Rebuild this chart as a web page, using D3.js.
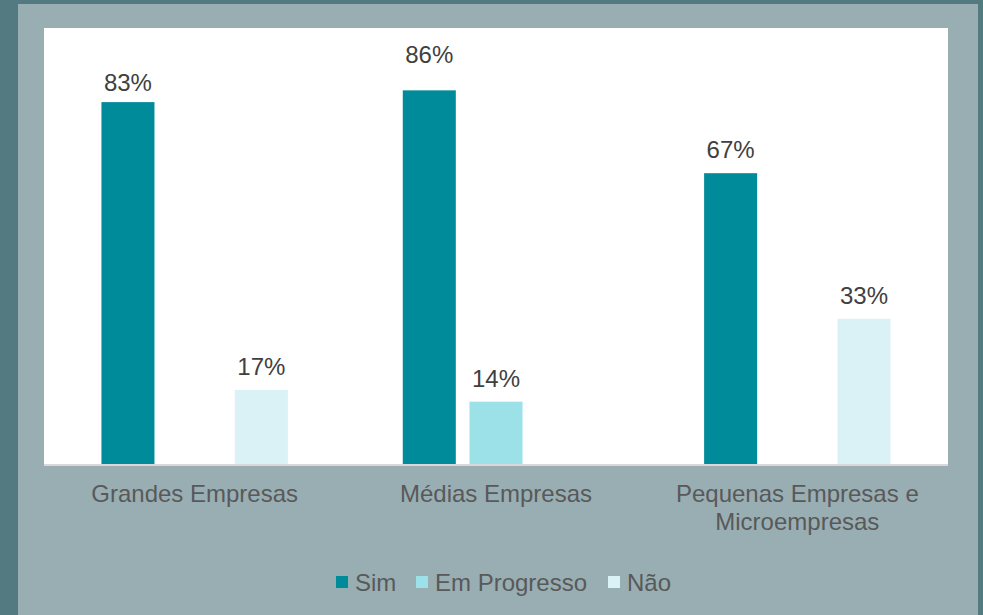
<!DOCTYPE html>
<html>
<head>
<meta charset="utf-8">
<script src="https://cdn.jsdelivr.net/npm/d3@7"></script>
<style>
  html, body { margin: 0; padding: 0; background: #527a80; }
  svg { display: block; }
  text { font-family: "Liberation Sans", Arial, sans-serif; }
</style>
</head>
<body>
<svg id="chart" width="983" height="615"></svg>
<script>
// ---- data ----
const categories = [["Grandes Empresas"], ["Médias Empresas"], ["Pequenas Empresas e", "Microempresas"]];
const categoryKeys = ["Grandes", "Medias", "Pequenas"];
const seriesNames = ["Sim", "Em Progresso", "Não"];
const simValues = [83, 85.7, 66.7];
const emProgressoValues = [null, 14.3, null];
const naoValues = [17, null, 33.3];

// ---- layout / style ----
const colors = ["#008b9b", "#9de1e8", "#daf2f6"];
const W = 983, H = 615;
const plot = { left: 44, top: 28, right: 948, bottom: 464 };
const labelNudge = { "Grandes|Sim": 4, "Medias|Sim": -12 };

const svg = d3.select("#chart");
svg.append("rect").attr("x", 0).attr("y", 0).attr("width", W).attr("height", H).attr("fill", "#527a80");
svg.append("rect").attr("x", 18).attr("y", 4).attr("width", 960).attr("height", H - 4).attr("fill", "#98aeb3");
svg.append("rect").attr("x", plot.left).attr("y", plot.top)
   .attr("width", plot.right - plot.left).attr("height", plot.bottom - plot.top).attr("fill", "#ffffff");

const x0 = d3.scaleBand().domain(categoryKeys).range([plot.left, plot.right]).paddingInner(0).paddingOuter(0);
const x1 = d3.scaleBand().domain(seriesNames).range([0, x0.bandwidth()]).paddingInner(0.205).paddingOuter(0.861);
const y = d3.scaleLinear().domain([0, 100]).range([plot.bottom, plot.top]);

const seriesValues = [simValues, emProgressoValues, naoValues];
const rows = [];
categoryKeys.forEach((c, i) => {
  seriesNames.forEach((s, j) => {
    const v = seriesValues[j][i];
    if (v != null) rows.push({ c, s, v, j });
  });
});

const g = svg.append("g");
g.selectAll("rect.bar").data(rows).enter().append("rect")
  .attr("class", "bar")
  .attr("x", d => x0(d.c) + x1(d.s))
  .attr("y", d => y(d.v))
  .attr("width", x1.bandwidth())
  .attr("height", d => y(0) - y(d.v))
  .attr("fill", d => colors[d.j]);

g.selectAll("text.lbl").data(rows).enter().append("text")
  .attr("class", "lbl")
  .attr("x", d => x0(d.c) + x1(d.s) + x1.bandwidth() / 2)
  .attr("y", d => y(d.v) - 15 + (labelNudge[d.c + "|" + d.s] || 0))
  .attr("text-anchor", "middle")
  .attr("font-size", 24)
  .attr("fill", "#404040")
  .text(d => Math.round(d.v) + "%");

// axis baseline
svg.append("line").attr("x1", plot.left).attr("x2", plot.right)
  .attr("y1", plot.bottom + 1).attr("y2", plot.bottom + 1)
  .attr("stroke", "#d9d9d9").attr("stroke-width", 2);

// category labels
const xAxis = svg.append("g");
categoryKeys.forEach((c, i) => {
  const t = xAxis.append("text")
    .attr("x", x0(c) + x0.bandwidth() / 2)
    .attr("y", 502)
    .attr("text-anchor", "middle")
    .attr("font-size", 24)
    .attr("fill", "#595959");
  categories[i].forEach((line, k) => {
    t.append("tspan").attr("x", x0(c) + x0.bandwidth() / 2).attr("dy", k === 0 ? 0 : 27.5).text(line);
  });
});

// legend
const legendX = [336, 416, 608];
const legend = svg.append("g");
seriesNames.forEach((s, j) => {
  legend.append("rect").attr("x", legendX[j]).attr("y", 576).attr("width", 12).attr("height", 12).attr("fill", colors[j]);
  legend.append("text").attr("x", legendX[j] + 19).attr("y", 591)
    .attr("font-size", 24).attr("fill", "#595959").text(s);
});
</script>
</body>
</html>
